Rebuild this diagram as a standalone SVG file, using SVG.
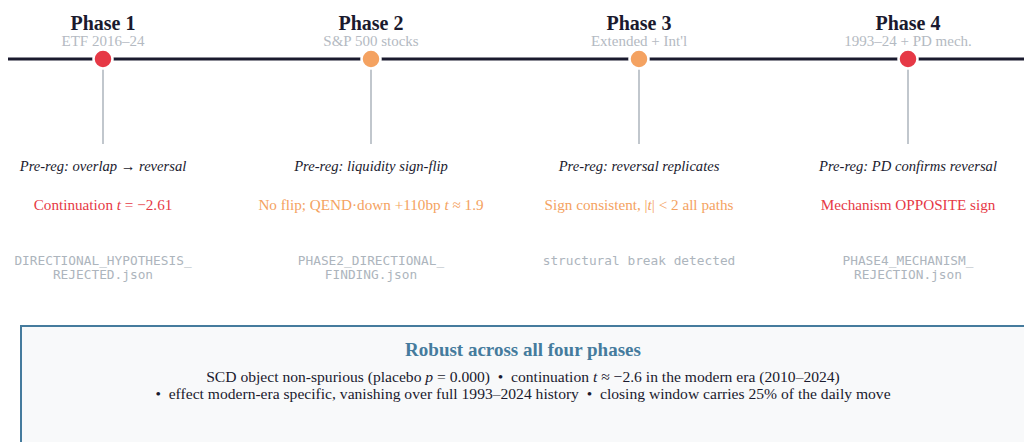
<svg xmlns="http://www.w3.org/2000/svg" width="1024" height="442" viewBox="0 0 1024 442">
<style>
.ttl{font-family:"Liberation Serif","Times New Roman",serif;font-weight:bold;font-size:20px;fill:#1a1a2e;text-anchor:middle}
.sub{font-family:"Liberation Serif","Times New Roman",serif;font-size:15px;fill:#b4bac2;text-anchor:middle}
.pre{font-family:"Liberation Serif","Times New Roman",serif;font-style:italic;font-size:14.6px;fill:#1a1a2e;text-anchor:middle}
.res{font-family:"Liberation Serif","Times New Roman",serif;font-size:15.2px;text-anchor:middle}
.red{fill:#e63946}
.org{fill:#f4a261}
.mono{font-family:"DejaVu Sans Mono",monospace;font-size:12.8px;fill:#adb5bd;text-anchor:middle}
.stem{stroke:#adb5bd;stroke-width:1.5}
.dot{stroke:#ffffff;stroke-width:2.5}
.it{font-style:italic}
.bt{font-family:"Liberation Serif","Times New Roman",serif;font-weight:bold;font-size:19px;fill:#457b9d;text-anchor:middle}
.bb{font-family:"Liberation Serif","Times New Roman",serif;font-size:15.6px;fill:#1a1a2e;text-anchor:middle}
</style>
<rect width="1024" height="442" fill="#ffffff"/>
<g id="connectors">
<line x1="8" y1="59" x2="1024" y2="59" stroke="#1a1a2e" stroke-width="3"/>
<line class="stem" x1="103" y1="68" x2="103" y2="144"/>
<line class="stem" x1="371" y1="68" x2="371" y2="144"/>
<line class="stem" x1="639" y1="68" x2="639" y2="144"/>
<line class="stem" x1="908" y1="68" x2="908" y2="144"/>
</g>
<g id="phase1">
<text class="ttl" x="103" y="30">Phase 1</text>
<text class="sub" x="103" y="46">ETF 2016–24</text>
<circle class="dot" cx="103" cy="59" r="9.5" fill="#e63946"/>
<text class="pre" x="103" y="171">Pre-reg: overlap → reversal</text>
<text class="res red" x="103" y="210">Continuation <tspan class="it">t</tspan> = −2.61</text>
<text class="mono" x="103" y="265">DIRECTIONAL_HYPOTHESIS_</text>
<text class="mono" x="103" y="279">REJECTED.json</text>
</g>
<g id="phase2">
<text class="ttl" x="371" y="30">Phase 2</text>
<text class="sub" x="371" y="46">S&amp;P 500 stocks</text>
<circle class="dot" cx="371" cy="59" r="9.5" fill="#f4a261"/>
<text class="pre" x="371" y="171">Pre-reg: liquidity sign-flip</text>
<text class="res org" x="371" y="210">No flip; QEND·down +110bp <tspan class="it">t</tspan> ≈ 1.9</text>
<text class="mono" x="371" y="265">PHASE2_DIRECTIONAL_</text>
<text class="mono" x="371" y="279">FINDING.json</text>
</g>
<g id="phase3">
<text class="ttl" x="639" y="30">Phase 3</text>
<text class="sub" x="639" y="46">Extended + Int'l</text>
<circle class="dot" cx="639" cy="59" r="9.5" fill="#f4a261"/>
<text class="pre" x="639" y="171">Pre-reg: reversal replicates</text>
<text class="res org" x="639" y="210">Sign consistent, |<tspan class="it">t</tspan>| &lt; 2 all paths</text>
<text class="mono" x="639" y="265">structural break detected</text>
</g>
<g id="phase4">
<text class="ttl" x="908" y="30">Phase 4</text>
<text class="sub" x="908" y="46">1993–24 + PD mech.</text>
<circle class="dot" cx="908" cy="59" r="9.5" fill="#e63946"/>
<text class="pre" x="908" y="171">Pre-reg: PD confirms reversal</text>
<text class="res red" x="908" y="210">Mechanism OPPOSITE sign</text>
<text class="mono" x="908" y="265">PHASE4_MECHANISM_</text>
<text class="mono" x="908" y="279">REJECTION.json</text>
</g>
<g id="summary">
<rect x="21" y="326" width="1004" height="140" fill="#f8f9fa" stroke="#457b9d" stroke-width="2"/>
<text class="bt" x="523" y="356">Robust across all four phases</text>
<text class="bb" x="523" y="382">SCD object non-spurious (placebo <tspan class="it">p</tspan> = 0.000)&#160; •&#160; continuation <tspan class="it">t</tspan> ≈ −2.6 in the modern era (2010–2024)</text>
<text class="bb" x="523" y="399">•&#160; effect modern-era specific, vanishing over full 1993–2024 history&#160; •&#160; closing window carries 25% of the daily move</text>
</g>
</svg>
